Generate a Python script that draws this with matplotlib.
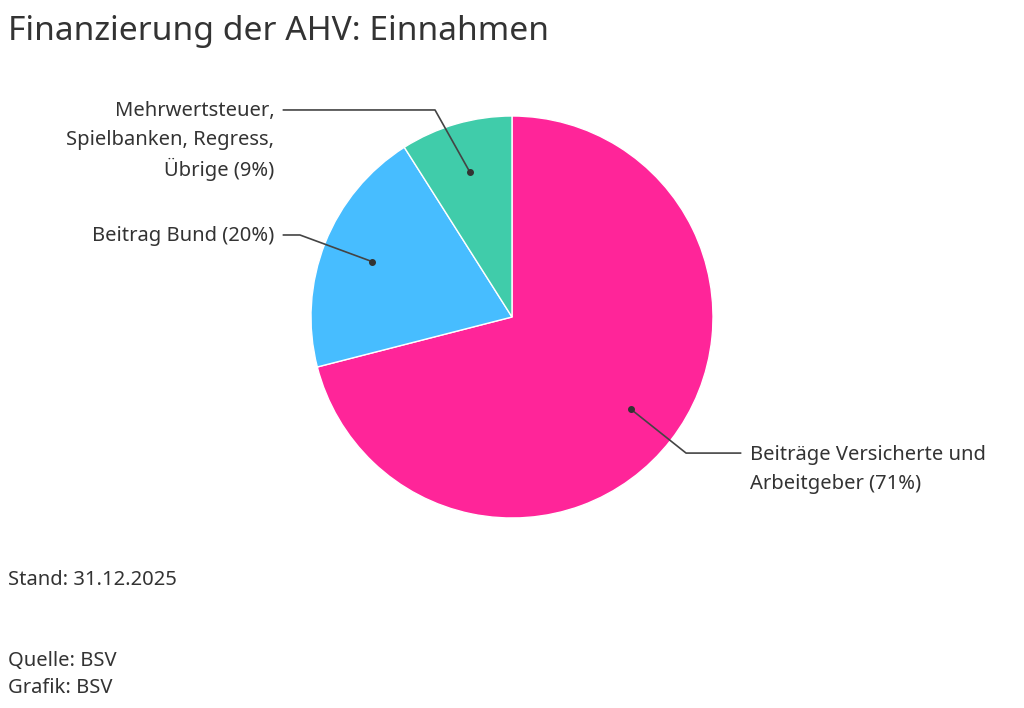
import numpy as np
import matplotlib.pyplot as plt
from matplotlib.transforms import offset_copy

plt.rcParams['font.family'] = ['Noto Sans', 'DejaVu Sans']

# Daten
labels = ['Beiträge Versicherte und\nArbeitgeber (71%)',
          'Beitrag Bund (20%)',
          'Mehrwertsteuer,\nSpielbanken, Regress,\nÜbrige (9%)']
anteile = [71, 20, 9]
farben = ['#FF2599', '#47BDFF', '#40CCAA']

title = 'Finanzierung der AHV: Einnahmen'
stand = 'Stand: 31.12.2025'
quelle = 'Quelle: BSV'
grafik = 'Grafik: BSV'

textfarbe = '#333333'
fs = 14.5

fig = plt.figure(figsize=(10.24, 7.08), dpi=100)
# Kreis: Mitte (512, 317) px, Radius 201 px
ax = fig.add_axes([311 / 1024, 1 - 518 / 708, 402 / 1024, 402 / 708])
wedges, _ = ax.pie(anteile, colors=farben, startangle=90, counterclock=False,
                   radius=1, wedgeprops=dict(edgecolor='white', linewidth=1))
ax.set_xlim(-1, 1)
ax.set_ylim(-1, 1)
ax.set_aspect('equal')
ax.axis('off')

# Beschriftungen mit Führungslinien: (Knick x, Label y, Seite)
layout = [(0.866, -0.677, 1), (-1.055, 0.408, -1), (-0.383, 1.03, -1)]
for w, lab, (kx, ly, seite) in zip(wedges, labels, layout):
    mid = np.deg2rad((w.theta1 + w.theta2) / 2)
    px, py = 0.75 * np.cos(mid), 0.75 * np.sin(mid)
    ende = 1.137 * seite
    ax.plot([px, kx, ende], [py, ly, ly], color='#444444', lw=1.2, clip_on=False)
    ax.plot(px, py, 'o', color='#333333', ms=4, clip_on=False)
    for i, zeile in enumerate(lab.split('\n')):
        tr = offset_copy(ax.transData, fig=fig, x=9 * seite, y=-1.5 - 29 * i, units='dots')
        ax.text(ende, ly, zeile, transform=tr, ha='left' if seite > 0 else 'right',
                va='center', fontsize=fs, color=textfarbe)

fig.text(8 / 1024, 1 - 32 / 708, title, fontsize=24.2, color=textfarbe, va='center')
fig.text(8 / 1024, 1 - 580 / 708, stand, fontsize=fs, color=textfarbe, va='center')
fig.text(8 / 1024, 1 - 661 / 708, quelle, fontsize=fs, color=textfarbe, va='center')
fig.text(8 / 1024, 1 - 688 / 708, grafik, fontsize=fs, color=textfarbe, va='center')

fig.savefig('out.png', dpi=100)
